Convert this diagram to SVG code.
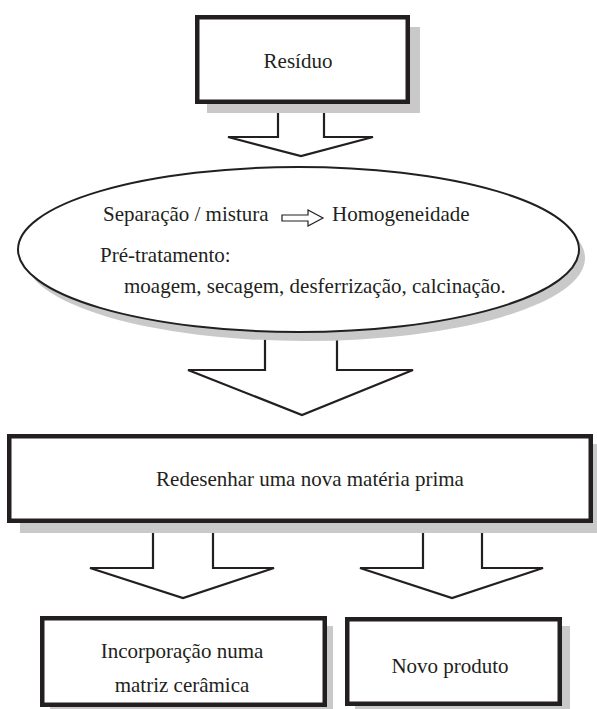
<svg xmlns="http://www.w3.org/2000/svg" width="597" height="709" viewBox="0 0 597 709">
<style>
.t{font-family:"Liberation Serif","Times New Roman",serif;font-size:21px;fill:#231f20}
.box{fill:#fff;stroke:#231f20;stroke-width:4.5}
.sh{fill:#c9c9c9}
.arr{fill:#fff;stroke:#231f20;stroke-width:2.2;stroke-linejoin:miter}
</style>
<rect width="597" height="709" fill="#fff"/>
<g id="connectors">
<polygon class="arr" points="278,100 324,100 324,137 373,137 301,156 228,137 278,137"/>
<polygon class="arr" points="265,320 337,320 337,370 413,370 302,415 188,370 265,370"/>
<polygon class="arr" points="153,520 213,520 213,568 274,568 183,598 90,568 153,568"/>
<polygon class="arr" points="423,520 482,520 482,568 543,568 452,598 360,568 423,568"/>
</g>
<g id="residuo">
<rect class="sh" x="207" y="27" width="213" height="86"/>
<rect class="box" x="197.25" y="17.25" width="210.5" height="84.5"/>
<text class="t" x="298" y="68" text-anchor="middle">Resíduo</text>
</g>
<g id="pretratamento">
<ellipse class="sh" cx="305" cy="258" rx="280" ry="83"/>
<ellipse cx="298.5" cy="249.5" rx="280.5" ry="82.5" fill="#fff" stroke="#231f20" stroke-width="2"/>
<text class="t" x="103" y="221">Separação / mistura</text>
<polygon points="282,215 308,215 308,210 323,218 308,226 308,221 282,221" fill="#fff" stroke="#231f20" stroke-width="1.2"/>
<text class="t" x="332" y="221">Homogeneidade</text>
<text class="t" x="100" y="262">Pré-tratamento:</text>
<text class="t" x="124" y="293">moagem, secagem, desferrização, calcinação.</text>
</g>
<g id="redesenhar">
<rect class="sh" x="20" y="444" width="577" height="89"/>
<rect class="box" x="9.25" y="436.25" width="581.5" height="84.5"/>
<text class="t" x="310" y="486" text-anchor="middle">Redesenhar uma nova matéria prima</text>
</g>
<g id="incorporacao">
<rect class="sh" x="50" y="626" width="283" height="83"/>
<rect class="box" x="42.25" y="618.25" width="282.5" height="86.5"/>
<text class="t" x="182" y="658" text-anchor="middle">Incorporação numa</text>
<text class="t" x="182" y="692" text-anchor="middle">matriz cerâmica</text>
</g>
<g id="novo">
<rect class="sh" x="355" y="626" width="215" height="83"/>
<rect class="box" x="347.25" y="619.25" width="212.5" height="84.5"/>
<text class="t" x="450" y="673" text-anchor="middle">Novo produto</text>
</g>
</svg>
